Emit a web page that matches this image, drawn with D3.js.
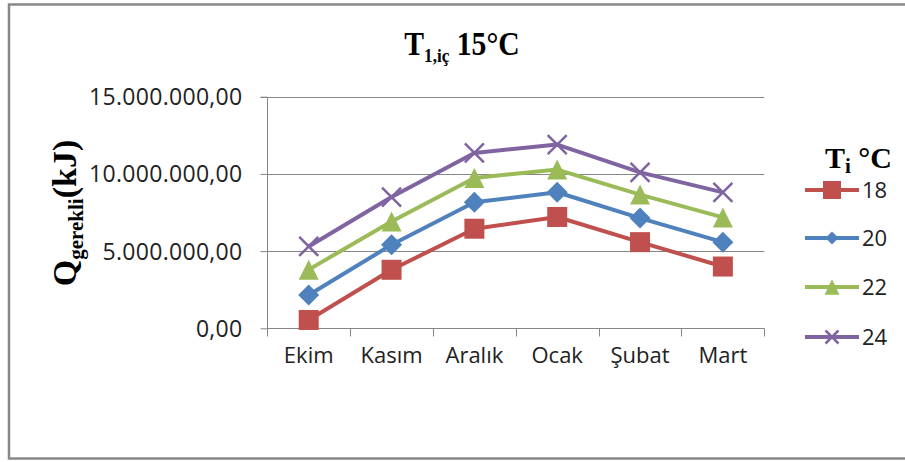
<!DOCTYPE html>
<html><head><meta charset="utf-8">
<script src="https://cdn.jsdelivr.net/npm/d3@7"></script>
<style>body{margin:0;background:#fff}svg{display:block}</style>
</head><body><svg id="c" width="905" height="462"></svg>
<script>
const categories = ["Ekim","Kasım","Aralık","Ocak","Şubat","Mart"];
const seriesNames = ["18","20","22","24"];
const t18 = [540000, 3790000, 6450000, 7210000, 5580000, 4000000];
const t20 = [2160000, 5410000, 8160000, 8810000, 7140000, 5580000];
const t22 = [3800000, 6920000, 9740000, 10280000, 8660000, 7180000];
const t24 = [5300000, 8500000, 11360000, 11900000, 10100000, 8800000];
const yTicks = [0, 5000000, 10000000, 15000000];
const colors = ["#C0504D","#4F81BD","#9BBB59","#8064A2"];
const shapes = ["square","diamond","triangle","x"];
const seriesValues = [t18, t20, t22, t24];

(function(){
const svg = d3.select("#c");
const sans = "'Open Sans', sans-serif";
const serif = "'Liberation Serif', 'Times New Roman', serif";

svg.append("rect").attr("x",9).attr("y",4.5).attr("width",920).attr("height",454)
  .attr("fill","#fff").attr("stroke","#888").attr("stroke-width",2.5);

const pLeft = 267.3, pRight = 764.3, pTop = 96.7, pBottom = 328.3;
const x = d3.scaleBand().domain(categories).range([pLeft, pRight]);
const y = d3.scaleLinear().domain([0, 15000000]).range([pBottom, pTop]);
const loc = d3.formatLocale({decimal:",", thousands:".", grouping:[3], currency:["",""]});
const fmt = loc.format(",.2f");

svg.append("g").selectAll("line").data(yTicks).join("line")
  .attr("x1", pLeft).attr("x2", pRight)
  .attr("y1", d => Math.round(y(d))+0.5).attr("y2", d => Math.round(y(d))+0.5)
  .attr("stroke","#868686").attr("stroke-width",1);

const ya = svg.append("g").attr("transform",`translate(${Math.round(pLeft)+0.5},0)`)
  .call(d3.axisLeft(y).tickValues(yTicks).tickFormat(fmt).tickSize(7).tickPadding(18));
ya.select(".domain").attr("stroke","#868686").attr("d",`M-7,${Math.round(pTop)+0.5}H0V${Math.round(pBottom)+0.5}`);
ya.selectAll(".tick line").attr("stroke","#868686");
ya.selectAll(".tick text").attr("font-family",sans).attr("font-size",23).attr("fill","#222")
  .attr("dy","0.35em").attr("letter-spacing","0.3px");

const xa = svg.append("g").attr("transform",`translate(0,${Math.round(pBottom)+0.5})`)
  .call(d3.axisBottom(x).tickSize(0).tickPadding(19));
xa.select(".domain").attr("stroke","#868686").attr("d",`M${pLeft},0H${pRight}`);
xa.selectAll(".tick text").attr("font-family",sans).attr("font-size",22).attr("fill","#222");
const bounds = categories.map(c => x(c)).concat([x(categories[categories.length-1]) + x.bandwidth()]);
xa.selectAll("line.bt").data(bounds).join("line").attr("class","bt")
  .attr("x1", d => Math.round(d)+0.5).attr("x2", d => Math.round(d)+0.5)
  .attr("y1",0).attr("y2",8).attr("stroke","#868686");

function marker(g, shape, size, color) {
  if (shape === "square") {
    g.append("rect").attr("x",-size/2).attr("y",-size/2).attr("width",size).attr("height",size).attr("fill",color);
  } else if (shape === "diamond") {
    g.append("path").attr("d", d3.symbol(d3.symbolSquare, (size/Math.SQRT2)**2)()).attr("transform","rotate(45)").attr("fill",color);
  } else if (shape === "triangle") {
    const h = size*0.9;
    g.append("path").attr("d",`M0,${-h/2-1}L${size/2},${h/2+1}L${-size/2},${h/2+1}Z`).attr("fill",color);
  } else {
    const r = size/2;
    g.append("path").attr("d",`M${-r},${-r}L${r},${r}M${-r},${r}L${r},${-r}`).attr("stroke",color).attr("stroke-width",2.5).attr("fill","none");
  }
}

const line = d3.line().x((d,i) => x(categories[i]) + x.bandwidth()/2).y(d => y(d));
seriesValues.forEach((vals, si) => {
  const g = svg.append("g");
  g.append("path").datum(vals).attr("d", line).attr("fill","none")
    .attr("stroke", colors[si]).attr("stroke-width",4).attr("stroke-linejoin","round");
  vals.forEach((v, i) => {
    const m = g.append("g").attr("transform",`translate(${x(categories[i]) + x.bandwidth()/2},${y(v)})`);
    marker(m, shapes[si], si===0 ? 20 : si===1 ? 21 : si===2 ? 20 : 19, colors[si]);
  });
});

const title = svg.append("text").attr("transform","translate(462,55) scale(0.9,1)").attr("text-anchor","middle")
  .attr("font-family",serif).attr("font-weight","bold").attr("font-size",33).attr("fill","#000");
title.append("tspan").text("T");
title.append("tspan").attr("font-size",19).attr("dy",7).text("1,iç");
title.append("tspan").attr("dy",-7).text(" 15°C");

const yt = svg.append("text").attr("transform","translate(76,213) rotate(-90)").attr("text-anchor","middle")
  .attr("font-family",serif).attr("font-weight","bold").attr("font-size",34).attr("fill","#000");
yt.append("tspan").text("Q");
yt.append("tspan").attr("font-size",21).attr("dy",7).text("gerekli");
yt.append("tspan").attr("dy",-7).text("(kJ)");

const lt = svg.append("text").attr("x",825).attr("y",168)
  .attr("font-family",serif).attr("font-weight","bold").attr("font-size",30).attr("fill","#000");
lt.append("tspan").text("T");
lt.append("tspan").attr("font-size",21).attr("dy",5).text("i");
lt.append("tspan").attr("dy",-5).text(" °C");

const legY = [190, 238, 287, 337];
const legSizes = [18, 13, 15, 13];
seriesNames.forEach((name, si) => {
  const g = svg.append("g").attr("transform",`translate(0,${legY[si]})`);
  g.append("line").attr("x1",805).attr("x2",859).attr("stroke",colors[si]).attr("stroke-width",4);
  const m = g.append("g").attr("transform","translate(832,0)");
  marker(m, shapes[si], legSizes[si], colors[si]);
  g.append("text").attr("x",862).attr("y",0).attr("dy","0.36em").attr("font-family",sans)
    .attr("font-size",22).attr("fill","#222").text(name);
});
})();
</script></body></html>
